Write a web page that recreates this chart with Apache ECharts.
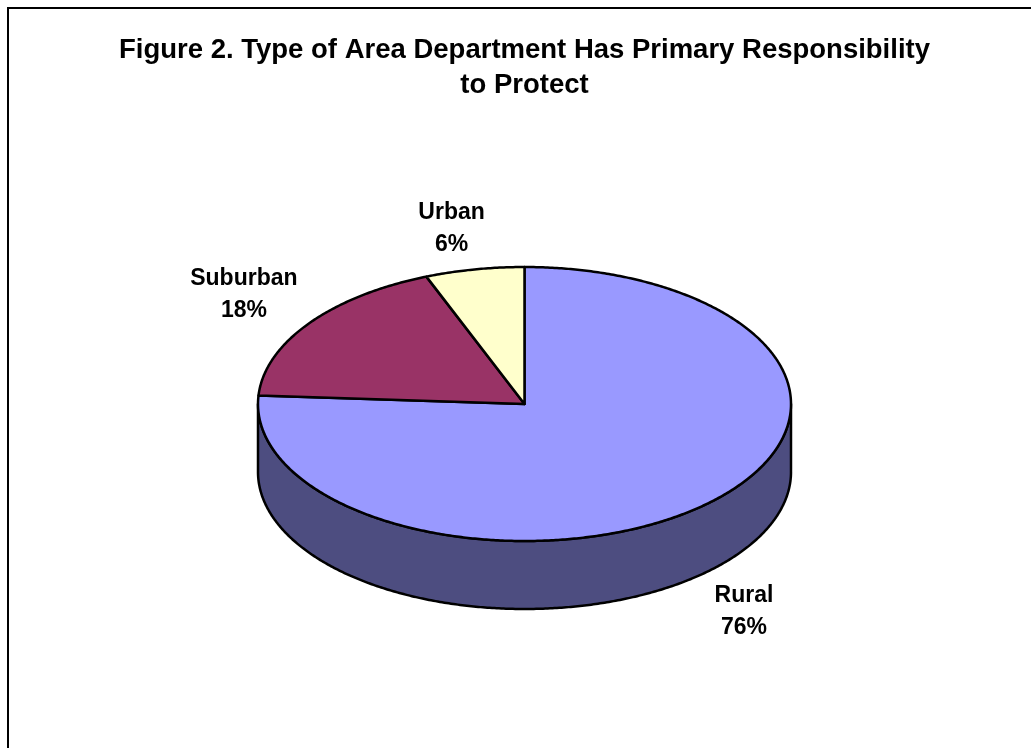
<!DOCTYPE html>
<html>
<head>
<meta charset="utf-8">
<style>html,body{margin:0;padding:0;background:#fff}#c{width:1031px;height:748px}</style>
<script src="https://cdn.jsdelivr.net/npm/echarts@6/dist/echarts.min.js"></script>
</head>
<body>
<div id="c"></div>
<script>
const titleLines = ['Figure 2. Type of Area Department Has Primary Responsibility', 'to Protect'];
const categories = ['Rural', 'Suburban', 'Urban'];
const values = [76, 18, 6];
const colors = ['#9999FF', '#993366', '#FFFFCC'];
const sideColors = ['#4D4D80', '#4D1A33', '#808066'];

const CX = 524.5, CY = 404, RX = 266.5, RY = 137, DEPTH = 68;
const FONT = 'Liberation Sans';
const labelOffsets = [[37, 108], [-65, -29], [-23, -41]];
const total = values.reduce((a, b) => a + b, 0);

function pt(deg, dy) {
  const r = deg * Math.PI / 180;
  return [CX + RX * Math.sin(r), CY - RY * Math.cos(r) + (dy || 0)];
}
function arc(from, to, dy) {
  const out = [];
  const n = Math.max(2, Math.ceil(Math.abs(to - from) * 2));
  for (let i = 0; i <= n; i++) out.push(pt(from + (to - from) * i / n, dy));
  return out;
}
const stroke = { stroke: '#000', lineWidth: 2.5, lineJoin: 'round' };

function renderItem(params, api) {
  const i = params.dataIndex;
  const start = values.slice(0, i).reduce((a, b) => a + b, 0) / total * 360;
  const end = start + api.value(0) / total * 360;
  const children = [];
  const a = Math.max(start, 90), b = Math.min(end, 270);
  if (b > a) {
    children.push({
      type: 'polygon',
      shape: { points: arc(a, b, 0).concat(arc(b, a, DEPTH)) },
      style: Object.assign({ fill: sideColors[i] }, stroke)
    });
  }
  children.push({
    type: 'polygon',
    shape: { points: [[CX, CY]].concat(arc(start, end, 0)) },
    style: Object.assign({ fill: colors[i] }, stroke)
  });
  const mid = pt((start + end) / 2, 0);
  children.push({
    type: 'text',
    x: mid[0] + labelOffsets[i][0],
    y: mid[1] + labelOffsets[i][1],
    style: {
      text: categories[i] + '\n' + values[i] + '%',
      font: 'bold 23px "' + FONT + '"',
      lineHeight: 32,
      fill: '#000',
      align: 'center',
      verticalAlign: 'middle'
    }
  });
  return { type: 'group', children };
}

const chart = echarts.init(document.getElementById('c'), null, { renderer: 'canvas' });
chart.setOption({
  animation: false,
  backgroundColor: '#fff',
  title: {
    text: titleLines.join('\n'),
    left: 519.5,
    top: 28,
    textAlign: 'center',
    textStyle: { fontFamily: FONT, fontWeight: 'bold', fontSize: 27.5, lineHeight: 35, color: '#000' }
  },
  graphic: [{
    type: 'polyline',
    silent: true,
    shape: { points: [[8, 748], [8, 8], [1031, 8]] },
    style: { stroke: '#000', lineWidth: 2, fill: null }
  }],
  series: [{
    type: 'custom',
    coordinateSystem: 'none',
    silent: true,
    clip: false,
    renderItem,
    data: values.map((v, i) => ({ name: categories[i], value: [v] }))
  }]
});
</script>
</body>
</html>
